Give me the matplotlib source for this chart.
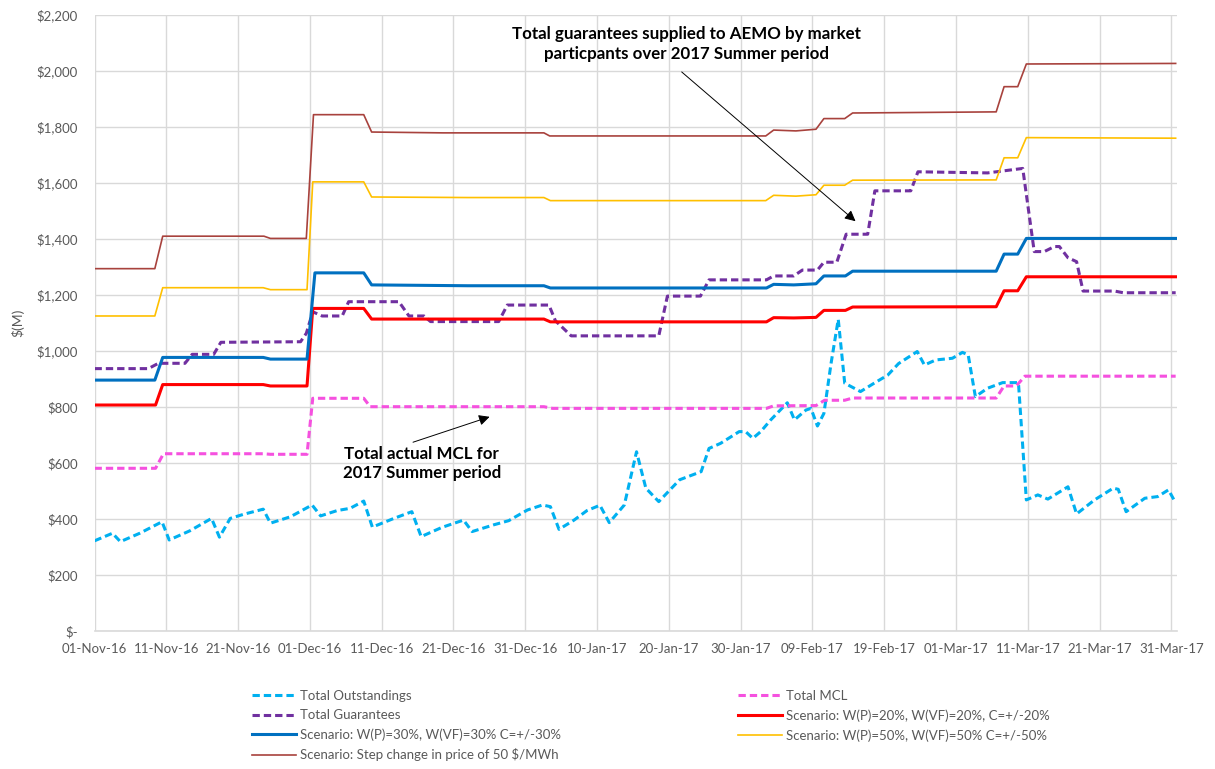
import pandas as pd
import matplotlib.pyplot as plt
import matplotlib.dates as mdates
from matplotlib.ticker import FuncFormatter, MultipleLocator

# === DATA === (x = days after 01-Nov-16, y = $M)
start = pd.Timestamp('2016-11-01')

outstand_days = [0, 2.5, 3.6, 6.3, 9.4, 10.4, 13.3, 16.3, 17.4, 18.9, 20.8, 23.5, 24.5, 27.3,
                 30.3, 31.5, 33.8, 35.6, 37.5, 38.7, 41.7, 44.2, 45.5, 48.4, 51.4, 52.6, 55.6,
                 57.7, 60.3, 62.4, 63.5, 64.7, 66.8, 68.6, 70.4, 71.7, 73.8, 75.5, 76.8, 78.6,
                 81.5, 84.5, 85.6, 87.2, 89.8, 90.7, 91.7, 92.8, 94.2, 96.5, 97.5, 99.1, 99.8,
                 100.7, 101.6, 102.6, 103.6, 104.5, 106.7, 108.6, 110.5, 112.0, 114.6, 115.6,
                 117.2, 119.5, 120.9, 121.7, 122.7, 124.4, 126.5, 128.7, 129.8, 131.4, 132.8,
                 135.6, 136.8, 139.3, 141.9, 142.6, 143.7, 146.3, 148.1, 149.6, 150.5]
outstand_vals = [322, 349, 319, 349, 390, 325, 358, 402, 335, 402, 417, 435, 385, 408,
                 450, 411, 430, 438, 464, 371, 402, 426, 337, 370, 396, 355, 379,
                 394, 432, 450, 444, 363, 396, 430, 449, 387, 450, 640, 510, 462,
                 540, 569, 652, 670, 712, 712, 688, 712, 754, 815, 754, 789, 795,
                 732, 777, 956, 1113, 885, 855, 885, 914, 955, 998, 950,
                 968, 974, 995, 986, 837, 867, 887, 887, 468, 486, 471,
                 515, 418, 468, 510, 506, 426, 474, 480, 504, 462]

mcl_days = [0, 8.5, 9.6, 23.5, 24.5, 29.6, 30.4, 37.5, 38.4, 62.6, 63.8, 93.6, 94.6, 100.5,
            101.7, 104.5, 105.6, 125.6, 126.7, 128.4, 129.6, 150.6]
mcl_vals = [581, 581, 633, 633, 631, 631, 831, 831, 801, 801, 795, 795, 804, 805,
            824, 824, 832, 832, 875, 875, 910, 910]

guar_days = [0, 7.5, 8.9, 12.6, 13.6, 16.6, 17.6, 28.7, 29.5, 30.4, 31.7, 34.5, 35.4, 42.4,
             43.8, 45.9, 46.8, 56.3, 57.5, 63.3, 64.2, 66.4, 78.6, 79.8, 84.4, 85.6, 93.6,
             94.6, 97.4, 98.6, 100.7, 101.6, 103.4, 104.7, 107.7, 108.7, 113.7, 114.7, 124.4,
             129.3, 130.9, 132.3, 133.7, 134.4, 135.6, 136.8, 137.7, 142.1, 143.3, 150.6]
guar_vals = [937, 937, 956, 956, 988, 988, 1031, 1033, 1063, 1140, 1125, 1125, 1176, 1176,
             1125, 1125, 1105, 1105, 1164, 1164, 1108, 1054, 1054, 1196, 1196, 1254, 1254,
             1268, 1268, 1289, 1289, 1317, 1317, 1417, 1417, 1572, 1572, 1640, 1636,
             1652, 1355, 1355, 1373, 1373, 1333, 1319, 1214, 1214, 1208, 1208]

w20_days = [0, 8.5, 9.5, 23.5, 24.5, 29.6, 30.4, 37.5, 38.6, 62.6, 63.5, 93.6, 94.6, 97.4,
            100.5, 101.6, 104.6, 105.6, 125.6, 126.7, 128.6, 129.8, 150.6]
w20_vals = [807, 807, 880, 880, 875, 875, 1152, 1152, 1114, 1114, 1104, 1104, 1119, 1118,
            1120, 1145, 1145, 1157, 1158, 1215, 1215, 1265, 1265]

w30_days = [0, 8.4, 9.5, 23.5, 24.5, 29.6, 30.7, 37.5, 38.6, 52, 62.6, 63.5, 93.6, 94.6,
            97.4, 100.5, 101.6, 104.6, 105.6, 125.6, 126.7, 128.6, 129.8, 150.6]
w30_vals = [896, 896, 977, 977, 971, 971, 1279, 1279, 1236, 1233, 1233, 1225, 1225, 1238,
            1236, 1240, 1268, 1268, 1285, 1285, 1346, 1346, 1402, 1402]

w50_days = [0, 8.4, 9.5, 23.5, 24.5, 29.6, 30.4, 37.5, 38.6, 52, 62.6, 63.5, 93.5, 94.6,
            97.7, 100.5, 101.6, 104.5, 105.6, 125.6, 126.7, 128.6, 129.8, 150.6]
w50_vals = [1125, 1125, 1226, 1226, 1219, 1219, 1604, 1604, 1550, 1548, 1548, 1537, 1537, 1556,
            1553, 1558, 1592, 1592, 1610, 1611, 1690, 1690, 1762, 1760]

step_days = [0, 8.4, 9.5, 23.6, 24.5, 29.5, 30.5, 37.5, 38.6, 48.5, 62.6, 63.4, 93.5, 94.6,
             97.7, 100.5, 101.6, 104.5, 105.6, 125.6, 126.7, 128.6, 129.8, 150.6]
step_vals = [1294, 1294, 1410, 1410, 1402, 1402, 1844, 1844, 1782, 1779, 1779, 1768, 1768, 1789,
             1786, 1792, 1830, 1830, 1850, 1854, 1944, 1944, 2025, 2027]


def to_dates(days):
    return start + pd.to_timedelta(days, unit='D')


plt.rcParams['font.family'] = ['Lato', 'DejaVu Sans']
grey = '#595959'

fig = plt.figure(figsize=(12.15, 7.69), dpi=100)
ax = fig.add_axes([0.0778, 0.1795, 0.891, 0.801])

dash = (2.4, 1.3)
ax.plot(to_dates(outstand_days), outstand_vals, color='#00B0F0', lw=2.2, dashes=dash,
        label='Total Outstandings')
ax.plot(to_dates(mcl_days), mcl_vals, color='#F551DF', lw=2.2, dashes=dash, label='Total MCL')
ax.plot(to_dates(guar_days), guar_vals, color='#7030A0', lw=2.2, dashes=dash,
        label='Total Guarantees')
ax.plot(to_dates(w20_days), w20_vals, color='#FF0000', lw=2.2,
        label='Scenario: W(P)=20%, W(VF)=20%, C=+/-20%')
ax.plot(to_dates(w30_days), w30_vals, color='#0070C0', lw=2.2,
        label='Scenario: W(P)=30%, W(VF)=30% C=+/-30%')
ax.plot(to_dates(w50_days), w50_vals, color='#FFC000', lw=1.2,
        label='Scenario: W(P)=50%, W(VF)=50% C=+/-50%')
ax.plot(to_dates(step_days), step_vals, color='#A8423D', lw=1.2,
        label='Scenario: Step change in price of 50 $/MWh')

# axes
ax.set_xlim(start, start + pd.Timedelta(days=150.8))
ax.set_ylim(0, 2200)
ticks = [start + pd.Timedelta(days=d) for d in range(0, 151, 10)]
ax.set_xticks(ticks)
ax.xaxis.set_major_formatter(mdates.DateFormatter('%d-%b-%y'))
ax.yaxis.set_major_locator(MultipleLocator(200))
ax.yaxis.set_major_formatter(FuncFormatter(lambda v, p: f'${v:,.0f}' if v else '$-'))
ax.grid(True, color='#d9d9d9', lw=1)
ax.set_axisbelow(True)
for s in ['top', 'right', 'left']:
    ax.spines[s].set_visible(False)
ax.spines['bottom'].set_color('#d9d9d9')
ax.spines['bottom'].set_linewidth(1.2)
ax.tick_params(axis='both', length=0, labelsize=9.5, labelcolor=grey)
ax.tick_params(axis='y', pad=12)
ax.tick_params(axis='x', pad=9)
ax.set_ylabel('$(M)', fontsize=10, color=grey, labelpad=9)

# annotations
ax.text(start + pd.Timedelta(days=82.4), 2098,
        'Total guarantees supplied to AEMO by market\nparticpants over 2017 Summer period',
        ha='center', va='center', fontsize=12.2, fontweight='bold', linespacing=1.3)
ax.annotate('', xy=(start + pd.Timedelta(days=106.3), 1457),
            xytext=(start + pd.Timedelta(days=81.5), 2003),
            arrowprops=dict(arrowstyle='-|>', color='black', lw=0.7, mutation_scale=16))
ax.text(start + pd.Timedelta(days=45.6), 598,
        'Total actual MCL for\n2017 Summer period',
        ha='center', va='center', fontsize=12.2, fontweight='bold', linespacing=1.3)
ax.annotate('', xy=(start + pd.Timedelta(days=55.4), 768),
            xytext=(start + pd.Timedelta(days=44.0), 671),
            arrowprops=dict(arrowstyle='-|>', color='black', lw=0.7, mutation_scale=16))

# legend (two columns, row-major order like the original)
h, l = ax.get_legend_handles_labels()
order = [0, 2, 4, 6, 1, 3, 5]
leg = fig.legend([h[i] for i in order], [l[i] for i in order], ncol=2, frameon=False,
                 loc='upper left', bbox_to_anchor=(252 / 1215, 1 - 690 / 769),
                 borderpad=0, borderaxespad=0, fontsize=9.5, handlelength=3.3,
                 handletextpad=0.35, columnspacing=13.4, labelspacing=0.55)
for t in leg.get_texts():
    t.set_color(grey)

fig.savefig('out.png', dpi=100)
